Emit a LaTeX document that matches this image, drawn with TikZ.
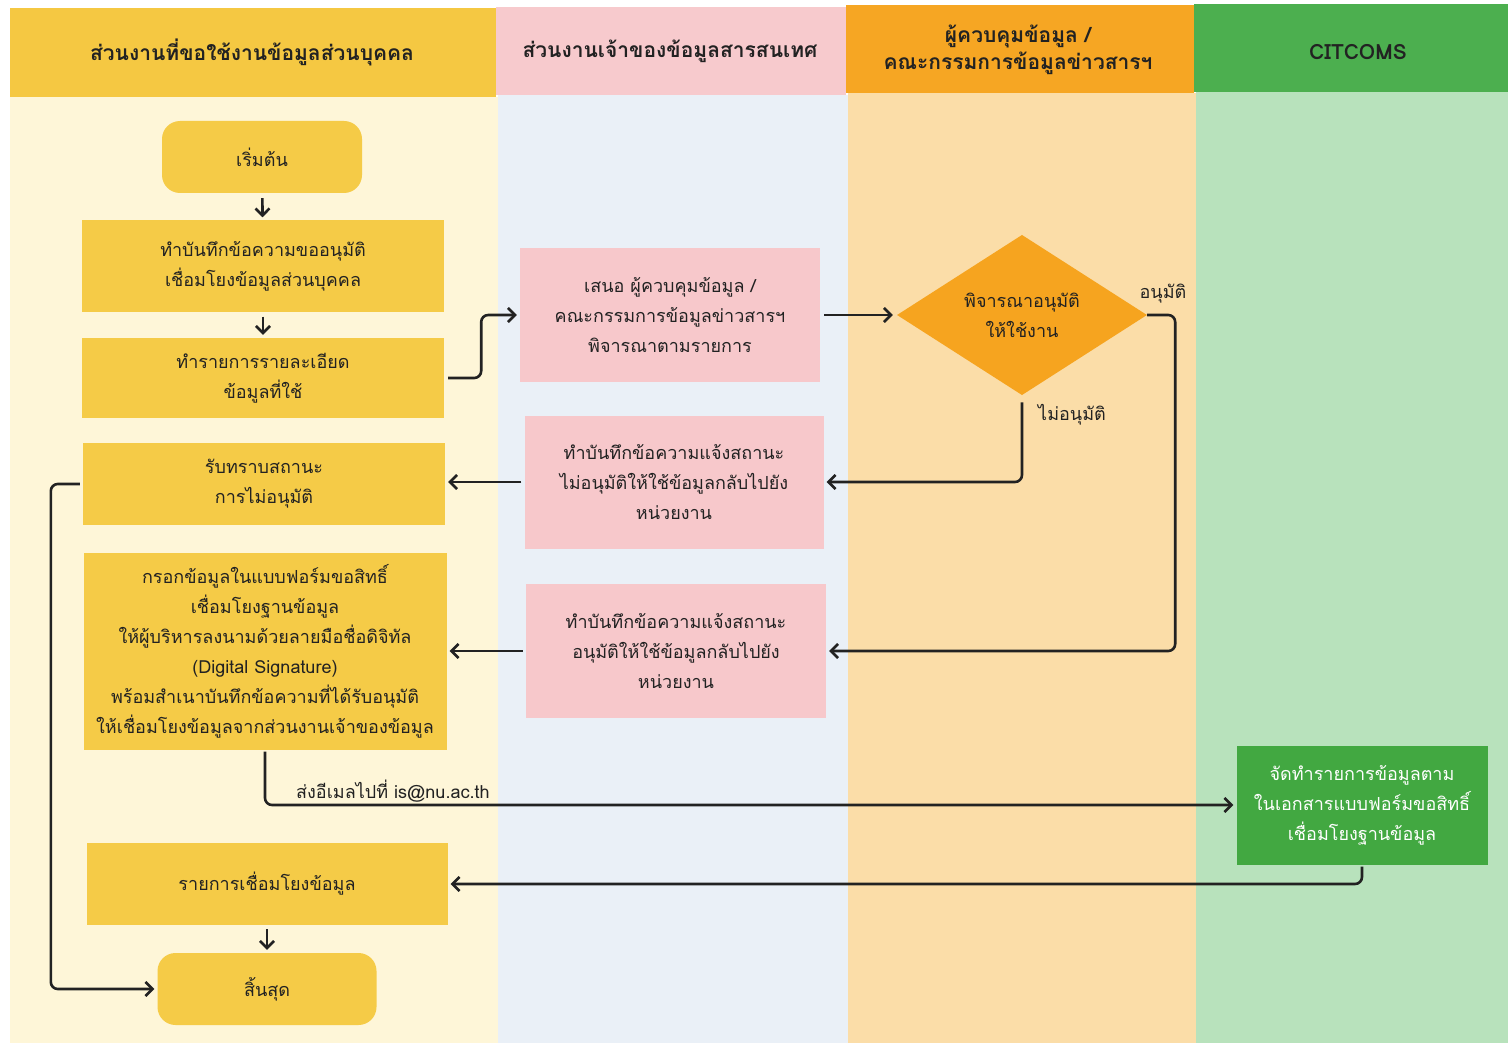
\documentclass[tikz,border=0pt]{standalone}
\usepackage{fontspec}
\newfontfamily\thaifont[Script=Thai]{Loma}
\usetikzlibrary{arrows.meta,shapes.geometric}
\definecolor{hyel}{HTML}{F5C842}
\definecolor{byel}{HTML}{F5CB47}
\definecolor{lyel}{HTML}{FEF6D8}
\definecolor{hpink}{HTML}{F7CACD}
\definecolor{bpink}{HTML}{F7C8CB}
\definecolor{lblue}{HTML}{EAF0F7}
\definecolor{horange}{HTML}{F6A623}
\definecolor{lpeach}{HTML}{FBDDA8}
\definecolor{dorange}{HTML}{F6A41F}
\definecolor{hgreen}{HTML}{4CAF4F}
\definecolor{lgreen}{HTML}{B8E2BC}
\definecolor{bgreen}{HTML}{42A841}
\definecolor{txt}{HTML}{222222}
\tikzset{
  boxy/.style={rectangle, fill=byel, text=txt, align=center, inner sep=0pt},
  boxp/.style={rectangle, fill=bpink, text=txt, align=center, inner sep=0pt},
  term/.style={rectangle, rounded corners=18pt, fill=byel, text=txt, align=center, inner sep=0pt},
  hdr/.style={font=\thaifont\bfseries\fontsize{21}{27}\selectfont, text=txt, align=center},
  conn/.style={draw=txt, line width=2.6pt, rounded corners=7pt, -{Straight Barb[length=7pt,width=14pt,line width=2.6pt]}},
  lbl/.style={text=txt, inner sep=0pt}
}
\begin{document}
\begin{tikzpicture}[x=1pt,y=-1pt, font=\thaifont\fontsize{18}{30}\selectfont]
\useasboundingbox (0,0) rectangle (1508,1043);
\fill[white] (0,0) rectangle (1508,1043);
% lanes
\fill[lyel] (10,97) rectangle (498,1043);
\fill[lblue] (498,95) rectangle (848,1043);
\fill[lpeach] (848,93) rectangle (1196,1043);
\fill[lgreen] (1196,92) rectangle (1508,1043);
\fill[hyel] (10,8) rectangle (496,97);
\fill[hpink] (496,7) rectangle (846,95);
\fill[horange] (846,5) rectangle (1194,93);
\fill[hgreen] (1194,4) rectangle (1508,92);
\node[hdr] (h1) at (252,52) {ส่วนงานที่ขอใช้งานข้อมูลส่วนบุคคล};
\node[hdr] (h2) at (670,51) {ส่วนงานเจ้าของข้อมูลสารสนเทศ};
\node[hdr] (h3) at (1018,50) {ผู้ควบคุมข้อมูล /\\คณะกรรมการข้อมูลข่าวสารฯ};
\node[hdr] (h4) at (1358,52) {CITCOMS};
% nodes
\node[term, minimum width=200pt, minimum height=72pt] (start) at (262,157) {เริ่มต้น};
\node[boxy, minimum width=362pt, minimum height=91pt] (n1) at (263,266) {ทำบันทึกข้อความขออนุมัติ\\เชื่อมโยงข้อมูลส่วนบุคคล};
\node[boxy, minimum width=362pt, minimum height=80pt] (n2) at (263,378) {ทำรายการรายละเอียด\\ข้อมูลที่ใช้};
\node[boxy, minimum width=362pt, minimum height=82pt] (recv) at (264,484) {รับทราบสถานะ\\การไม่อนุมัติ};
\node[boxy, minimum width=363pt, minimum height=197pt] (fill) at (265,651) {กรอกข้อมูลในแบบฟอร์มขอสิทธิ์\\เชื่อมโยงฐานข้อมูล\\ให้ผู้บริหารลงนามด้วยลายมือชื่อดิจิทัล\\(Digital Signature)\\พร้อมสำเนาบันทึกข้อความที่ได้รับอนุมัติ\\ให้เชื่อมโยงข้อมูลจากส่วนงานเจ้าของข้อมูล};
\node[boxy, minimum width=361pt, minimum height=82pt] (list) at (267,884) {รายการเชื่อมโยงข้อมูล};
\node[term, minimum width=219pt, minimum height=72pt] (end) at (267,989) {สิ้นสุด};
\node[boxp, minimum width=300pt, minimum height=134pt] (prop) at (670,315) {เสนอ ผู้ควบคุมข้อมูล /\\คณะกรรมการข้อมูลข่าวสารฯ\\พิจารณาตามรายการ};
\node[boxp, minimum width=299pt, minimum height=133pt] (nap) at (674,482) {ทำบันทึกข้อความแจ้งสถานะ\\ไม่อนุมัติให้ใช้ข้อมูลกลับไปยัง\\หน่วยงาน};
\node[boxp, minimum width=300pt, minimum height=134pt] (app) at (676,651) {ทำบันทึกข้อความแจ้งสถานะ\\อนุมัติให้ใช้ข้อมูลกลับไปยัง\\หน่วยงาน};
\node[diamond, fill=dorange, text=txt, align=center, inner sep=0pt, minimum width=250pt, minimum height=160pt] (dia) at (1022,315) {พิจารณาอนุมัติ\\ให้ใช้งาน};
\node[rectangle, fill=bgreen, text=white, align=center, inner sep=0pt, minimum width=251pt, minimum height=119pt] (green) at (1362,805) {จัดทำรายการข้อมูลตาม\\ในเอกสารแบบฟอร์มขอสิทธิ์\\เชื่อมโยงฐานข้อมูล};
% labels
\node[lbl] (lapp) at (1163,294) {อนุมัติ};
\node[lbl] (lnap) at (1072,415) {ไม่อนุมัติ};
\node[lbl, anchor=west] (lmail) at (296,791) {ส่งอีเมลไปที่ is@nu.ac.th};
% connectors
\draw[conn, shorten <=5pt, shorten >=3pt] (start) -- (n1);
\draw[conn, shorten <=5pt, shorten >=3pt] (n1) -- (n2);
\draw[conn, shorten <=4pt, shorten >=3pt] (n2.east) -- ++(37,0) |- (prop.west);
\draw[conn, shorten <=4pt, shorten >=4pt] (prop.east) -- (dia.west);
\draw[conn, shorten >=3pt] (dia.east) -- ++(28,0) |- (app.east);
\draw[conn, shorten <=7pt, shorten >=3pt] (dia.south) |- (nap.east);
\draw[conn, shorten <=3pt, shorten >=3pt] (nap.west) -- (nap.west -| recv.east);
\draw[conn, shorten <=3pt, shorten >=3pt] (app.west) -- (app.west -| fill.east);
\draw[conn, shorten <=3pt, shorten >=3pt] (recv.west) -- ++(-32,0) |- (end.west);
\draw[conn, shorten <=2pt, shorten >=3pt] (fill.south) |- (green.west);
\draw[conn, shorten <=2pt, shorten >=3pt] (green.south) |- (list.east);
\draw[conn, shorten <=4pt, shorten >=3pt] (list) -- (end);
\end{tikzpicture}
\end{document}
